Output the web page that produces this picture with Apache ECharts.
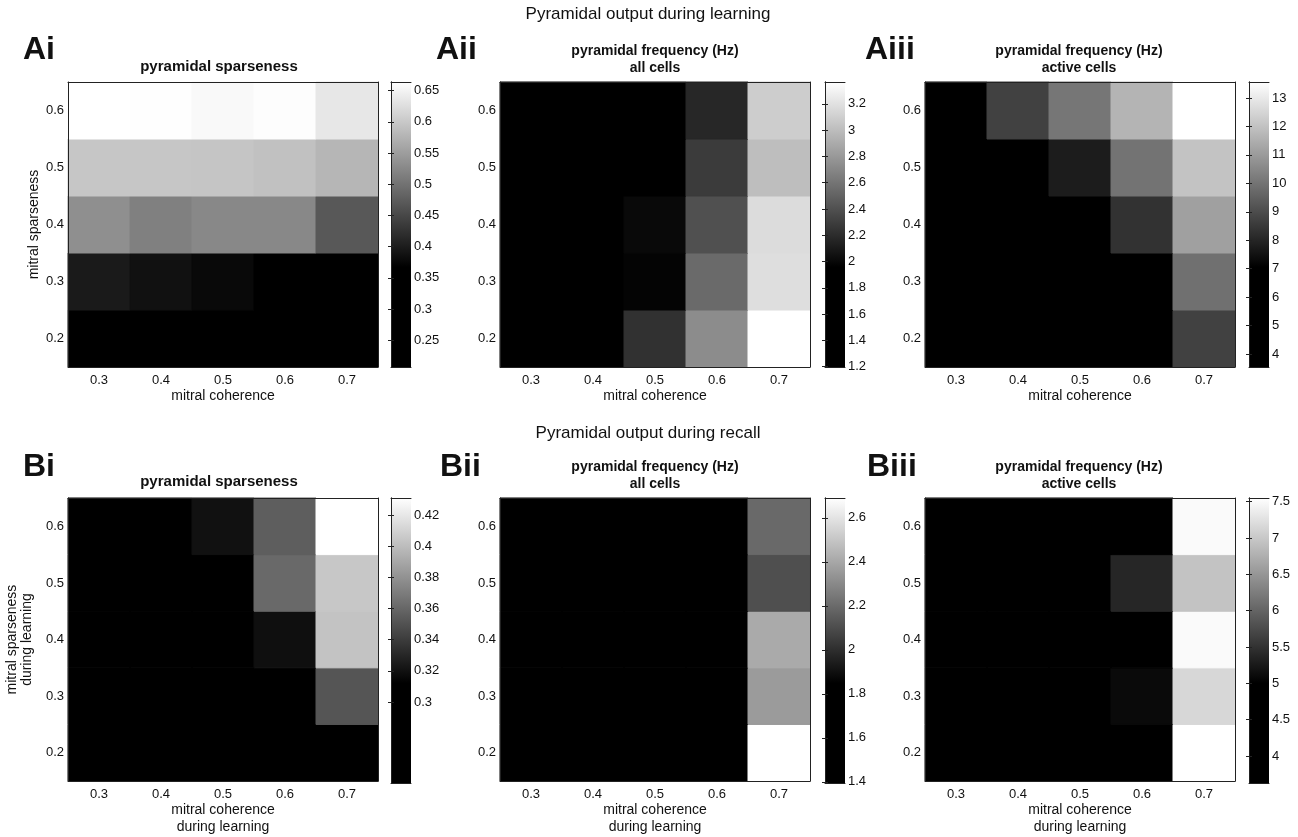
<!DOCTYPE html>
<html>
<head>
<meta charset="utf-8">
<script src="https://cdn.jsdelivr.net/npm/echarts@6/dist/echarts.min.js"></script>
<style>
  html, body { margin: 0; padding: 0; background: #ffffff; }
  #chart { width: 1298px; height: 837px; }
</style>
</head>
<body>
<div id="chart"></div>
<script>
// Axis categories shared by all six maps
const coherence = ['0.3', '0.4', '0.5', '0.6', '0.7'];
const sparseness = ['0.2', '0.3', '0.4', '0.5', '0.6'];

// Each matrix: rows = mitral sparseness 0.2 -> 0.6, columns = mitral coherence 0.3 -> 0.7
// Learning phase
const learnSparseness = [
  [0.207, 0.210, 0.215, 0.220, 0.230],
  [0.398, 0.386, 0.377, 0.365, 0.350],
  [0.534, 0.516, 0.526, 0.526, 0.470],
  [0.598, 0.598, 0.597, 0.592, 0.580],
  [0.664, 0.663, 0.657, 0.662, 0.636]
];
const learnFreqAll = [
  [1.200, 1.600, 2.227, 2.733, 3.366],
  [1.250, 1.350, 1.979, 2.540, 3.184],
  [1.230, 1.300, 2.007, 2.403, 3.173],
  [1.210, 1.240, 1.450, 2.282, 3.008],
  [1.220, 1.250, 1.400, 2.172, 3.091]
];
const learnFreqActive = [
  [3.545, 4.000, 5.000, 6.000, 8.710],
  [3.800, 4.500, 5.500, 6.800, 9.910],
  [4.000, 5.000, 6.500, 8.330, 11.140],
  [4.500, 5.500, 7.770, 9.990, 12.030],
  [5.000, 8.710, 10.060, 11.650, 13.560]
];
// Recall phase
const recallSparseness = [
  [0.248, 0.250, 0.260, 0.270, 0.290],
  [0.250, 0.260, 0.280, 0.300, 0.352],
  [0.255, 0.270, 0.290, 0.319, 0.403],
  [0.260, 0.280, 0.300, 0.361, 0.405],
  [0.270, 0.290, 0.320, 0.356, 0.431]
];
const recallFreqAll = [
  [1.395, 1.400, 1.450, 1.500, 2.690],
  [1.400, 1.420, 1.480, 1.550, 2.360],
  [1.400, 1.450, 1.500, 1.580, 2.409],
  [1.420, 1.480, 1.520, 1.600, 2.112],
  [1.450, 1.500, 1.550, 1.620, 2.195]
];
const recallFreqActive = [
  [3.630, 3.700, 4.000, 4.500, 7.550],
  [3.650, 3.800, 4.100, 5.102, 7.150],
  [3.700, 3.900, 4.200, 4.700, 7.500],
  [3.800, 4.000, 4.300, 5.382, 6.951],
  [4.000, 4.200, 4.400, 4.800, 7.500]
];

// Colour-bar ranges and tick labels
const rangeLearnSparseness = [0.207, 0.664];
const rangeLearnFreqAll = [1.198, 3.366];
const rangeLearnFreqActive = [3.545, 13.56];
const rangeRecallSparseness = [0.248, 0.431];
const rangeRecallFreqAll = [1.395, 2.69];
const rangeRecallFreqActive = [3.63, 7.55];

const ticksLearnSparseness = [0.25, 0.3, 0.35, 0.4, 0.45, 0.5, 0.55, 0.6, 0.65];
const ticksLearnFreqAll = [1.2, 1.4, 1.6, 1.8, 2, 2.2, 2.4, 2.6, 2.8, 3, 3.2];
const ticksLearnFreqActive = [4, 5, 6, 7, 8, 9, 10, 11, 12, 13];
const ticksRecallSparseness = [0.3, 0.32, 0.34, 0.36, 0.38, 0.4, 0.42];
const ticksRecallFreqAll = [1.4, 1.6, 1.8, 2, 2.2, 2.4, 2.6];
const ticksRecallFreqActive = [4, 4.5, 5, 5.5, 6, 6.5, 7, 7.5];

// ---------------------------------------------------------------------------
const FONT = '"Liberation Sans", Arial, Helvetica, sans-serif';
const AXIS_COLOR = '#222';
const TEXT_COLOR = '#111';

// Grey colormap: black over the lower part of the scale, then a linear ramp to white
const BLACK_PART = 0.35;
function greyAt(t) {
  const g = t <= BLACK_PART ? 0 : (t - BLACK_PART) / (1 - BLACK_PART);
  const c = Math.round(Math.max(0, Math.min(1, g)) * 255);
  return 'rgb(' + c + ',' + c + ',' + c + ')';
}
const palette = [];
for (let i = 0; i <= 100; i++) palette.push(greyAt(i / 100));
const barStops = [
  { offset: 0, color: '#000000' },
  { offset: BLACK_PART, color: '#000000' },
  { offset: 1, color: '#ffffff' }
];

// Panel geometry (cell sizes kept whole-pixel: 62 x 57)
const rowsPos = { A: { top: 82, height: 285 }, B: { top: 498, height: 285 } };
const colsPos = [
  { left: 68, width: 310, cbLeft: 391 },
  { left: 500, width: 310, cbLeft: 825 },
  { left: 925, width: 310, cbLeft: 1249 }
];
const CB_WIDTH = 20;

const panels = [
  { row: 'A', col: 0, values: learnSparseness, range: rangeLearnSparseness, ticks: ticksLearnSparseness,
    xName: 'mitral coherence', yName: 'mitral sparseness' },
  { row: 'A', col: 1, values: learnFreqAll, range: rangeLearnFreqAll, ticks: ticksLearnFreqAll,
    xName: 'mitral coherence' },
  { row: 'A', col: 2, values: learnFreqActive, range: rangeLearnFreqActive, ticks: ticksLearnFreqActive,
    xName: 'mitral coherence' },
  { row: 'B', col: 0, values: recallSparseness, range: rangeRecallSparseness, ticks: ticksRecallSparseness,
    xName: 'mitral coherence\nduring learning', yName: 'mitral sparseness\nduring learning' },
  { row: 'B', col: 1, values: recallFreqAll, range: rangeRecallFreqAll, ticks: ticksRecallFreqAll,
    xName: 'mitral coherence\nduring learning' },
  { row: 'B', col: 2, values: recallFreqActive, range: rangeRecallFreqActive, ticks: ticksRecallFreqActive,
    xName: 'mitral coherence\nduring learning' }
];

const grid = [], xAxis = [], yAxis = [], series = [], visualMap = [];

const lineStyle = { color: AXIS_COLOR, width: 1 };
const labelStyle = { color: TEXT_COLOR, fontFamily: FONT, fontSize: 13 };
const AXIS_Z = 5;

// one colour cell per data item; a same-colour outline closes anti-aliasing seams
function renderCell(params, api) {
  const center = api.coord([api.value(0), api.value(1)]);
  const size = api.size([1, 1]);
  const colour = api.visual('color');
  return {
    type: 'rect',
    shape: { x: center[0] - size[0] / 2, y: center[1] - size[1] / 2, width: size[0], height: size[1] },
    style: { fill: colour, stroke: colour, lineWidth: 1 }
  };
}

panels.forEach(function (p) {
  const r = rowsPos[p.row], c = colsPos[p.col];
  const gMap = grid.length;
  grid.push({ left: c.left, top: r.top, width: c.width, height: r.height });
  const gBar = grid.length;
  grid.push({ left: c.cbLeft, top: r.top, width: CB_WIDTH, height: r.height });

  // heat-map box: labelled bottom/left axes, bare top/right axes with ticks
  const xb = xAxis.length;
  xAxis.push({
    gridIndex: gMap, type: 'category', data: coherence, position: 'bottom', z: AXIS_Z,
    axisLine: { lineStyle: lineStyle },
    axisTick: { inside: true, alignWithLabel: true, length: 4, lineStyle: lineStyle },
    axisLabel: Object.assign({ margin: 7 }, labelStyle),
    name: p.xName, nameLocation: 'middle', nameGap: p.row === 'A' ? 15 : 19,
    nameTextStyle: { color: TEXT_COLOR, fontFamily: FONT, fontSize: 14, lineHeight: 17, verticalAlign: 'top' }
  });
  xAxis.push({
    gridIndex: gMap, type: 'category', data: coherence, position: 'top', z: AXIS_Z,
    axisLine: { lineStyle: lineStyle },
    axisTick: { inside: true, alignWithLabel: true, length: 4, lineStyle: lineStyle },
    axisLabel: { show: false }
  });
  const yl = yAxis.length;
  const yLeft = {
    gridIndex: gMap, type: 'category', data: sparseness, position: 'left', z: AXIS_Z,
    axisLine: { lineStyle: lineStyle },
    axisTick: { inside: true, alignWithLabel: true, length: 4, lineStyle: lineStyle },
    axisLabel: Object.assign({ margin: 4 }, labelStyle)
  };
  if (p.yName) {
    Object.assign(yLeft, {
      name: p.yName, nameLocation: 'middle', nameRotate: 90,
      nameGap: p.row === 'A' ? 17 : 33,
      nameTextStyle: { color: TEXT_COLOR, fontFamily: FONT, fontSize: 14, lineHeight: 15 }
    });
  }
  yAxis.push(yLeft);
  yAxis.push({
    gridIndex: gMap, type: 'category', data: sparseness, position: 'right', z: AXIS_Z,
    axisLine: { lineStyle: lineStyle },
    axisTick: { inside: true, alignWithLabel: true, length: 4, lineStyle: lineStyle },
    axisLabel: { show: false }
  });

  const cells = [];
  p.values.forEach(function (row, yi) {
    row.forEach(function (v, xi) { cells.push([xi, yi, v]); });
  });
  const sMap = series.length;
  series.push({
    type: 'custom', xAxisIndex: xb, yAxisIndex: yl, data: cells, silent: true, z: 1,
    encode: { x: 0, y: 1 }, renderItem: renderCell
  });
  visualMap.push({
    type: 'continuous', show: false, seriesIndex: sMap, dimension: 2,
    min: p.range[0], max: p.range[1], inRange: { color: palette }
  });

  // colour bar
  const xc = xAxis.length;
  xAxis.push({ gridIndex: gBar, type: 'value', min: 0, max: 1, show: false });
  const yc = yAxis.length;
  const tickFmt = function (v) { return String(v); };
  yAxis.push({
    gridIndex: gBar, type: 'value', position: 'right', min: p.range[0], max: p.range[1], z: AXIS_Z,
    axisLine: { show: true, lineStyle: lineStyle },
    splitLine: { show: false },
    axisTick: { show: true, inside: true, length: 3, lineStyle: lineStyle, customValues: p.ticks },
    axisLabel: Object.assign({ margin: 3, customValues: p.ticks, formatter: tickFmt }, labelStyle)
  });
  yAxis.push({
    gridIndex: gBar, type: 'value', position: 'left', min: p.range[0], max: p.range[1], z: AXIS_Z,
    axisLine: { show: true, lineStyle: lineStyle },
    splitLine: { show: false },
    axisTick: { show: true, inside: true, length: 3, lineStyle: lineStyle, customValues: p.ticks },
    axisLabel: { show: false, customValues: p.ticks }
  });
  xAxis.push({ gridIndex: gBar, type: 'value', min: 0, max: 1, position: 'top', show: true, z: AXIS_Z,
    axisLine: { show: true, onZero: false, lineStyle: lineStyle }, axisTick: { show: false },
    axisLabel: { show: false }, splitLine: { show: false } });
  xAxis.push({ gridIndex: gBar, type: 'value', min: 0, max: 1, position: 'bottom', show: true, z: AXIS_Z,
    axisLine: { show: true, onZero: false, lineStyle: lineStyle }, axisTick: { show: false },
    axisLabel: { show: false }, splitLine: { show: false } });

  series.push({
    type: 'custom', xAxisIndex: xc, yAxisIndex: yc, silent: true, z: 1,
    data: [[0, p.range[0], 1, p.range[1]]],
    renderItem: function (params, api) {
      const lo = api.coord([api.value(0), api.value(1)]);
      const hi = api.coord([api.value(2), api.value(3)]);
      return {
        type: 'rect',
        shape: { x: lo[0], y: hi[1], width: hi[0] - lo[0], height: lo[1] - hi[1] },
        style: { fill: new echarts.graphic.LinearGradient(0, 1, 0, 0, barStops) }
      };
    }
  });
});

// Panel letters, panel titles and section headings
function txt(x, y, text, size, weight, align) {
  return {
    type: 'text', x: x, y: y, z: 10,
    style: {
      text: text, fill: TEXT_COLOR, align: align || 'center', verticalAlign: 'middle',
      font: (weight || 'normal') + ' ' + size + 'px ' + FONT, lineHeight: Math.round(size * 1.18)
    }
  };
}
const graphic = [
  txt(648, 14, 'Pyramidal output during learning', 17),
  txt(648, 433, 'Pyramidal output during recall', 17),
  txt(23, 50, 'Ai', 32, 'bold', 'left'),
  txt(436, 50, 'Aii', 32, 'bold', 'left'),
  txt(865, 50, 'Aiii', 32, 'bold', 'left'),
  txt(23, 467, 'Bi', 32, 'bold', 'left'),
  txt(440, 467, 'Bii', 32, 'bold', 'left'),
  txt(867, 467, 'Biii', 32, 'bold', 'left'),
  txt(219, 67, 'pyramidal sparseness', 15, 'bold'),
  txt(655, 60, 'pyramidal frequency (Hz)\nall cells', 14, 'bold'),
  txt(1079, 60, 'pyramidal frequency (Hz)\nactive cells', 14, 'bold'),
  txt(219, 482, 'pyramidal sparseness', 15, 'bold'),
  txt(655, 476, 'pyramidal frequency (Hz)\nall cells', 14, 'bold'),
  txt(1079, 476, 'pyramidal frequency (Hz)\nactive cells', 14, 'bold')
];

const chart = echarts.init(document.getElementById('chart'), null, { renderer: 'canvas' });
chart.setOption({
  animation: false,
  backgroundColor: '#ffffff',
  grid: grid, xAxis: xAxis, yAxis: yAxis,
  visualMap: visualMap, series: series, graphic: graphic
});
</script>
</body>
</html>
